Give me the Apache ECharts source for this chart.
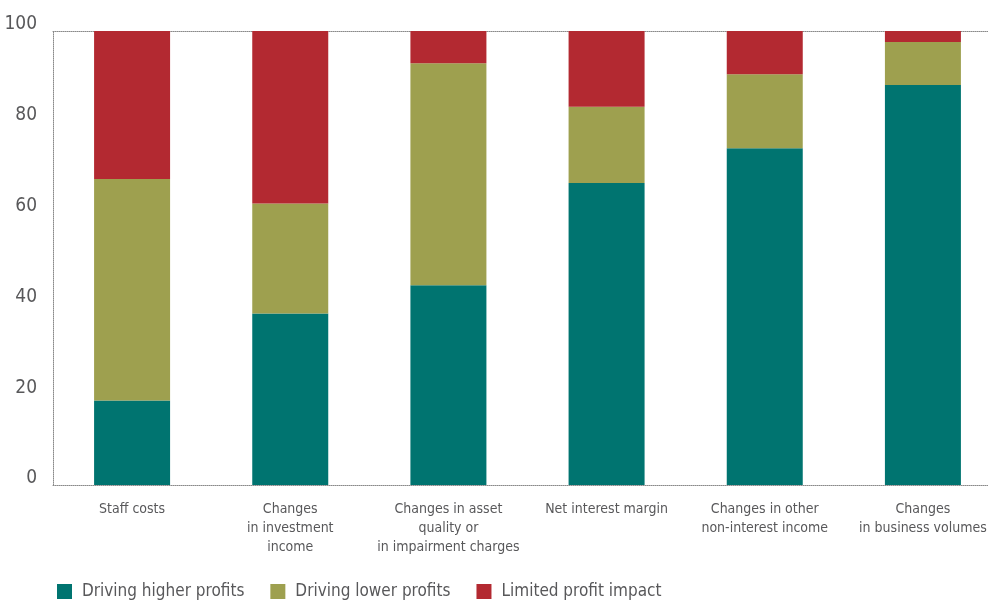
<!DOCTYPE html>
<html>
<head>
<meta charset="utf-8">
<script src="https://cdn.jsdelivr.net/npm/echarts@6/dist/echarts.min.js"></script>
<style>
  html, body { margin: 0; padding: 0; background: #fff; }
  #chart { width: 988px; height: 601px; }
</style>
</head>
<body>
<div id="chart"></div>
<script>
// Share of respondents (%) by profit driver
const categories = [
  'Staff costs',
  'Changes\nin investment\nincome',
  'Changes in asset\nquality or\nin impairment charges',
  'Net interest margin',
  'Changes in other\nnon-interest income',
  'Changes\nin business volumes'
];
const higherProfits = [18.6, 37.8, 44.0, 66.5, 74.2, 88.1];
const lowerProfits  = [48.8, 24.2, 48.9, 16.8, 16.3, 9.5];
const limitedImpact = [32.6, 38.0, 7.1, 16.7, 9.5, 2.4];
const yTicks = [0, 20, 40, 60, 80, 100];

const FONT = '"Liberation Sans Narrow", "DejaVu Sans Condensed", sans-serif';
const TEXT = '#58585a';
const DOT = { color: '#8a8a8a', type: [1, 1], width: 1 };

const chart = echarts.init(document.getElementById('chart'));

function stackSeries(name, data, color) {
  return {
    name: name,
    type: 'bar',
    stack: 'total',
    barWidth: 76,
    data: data,
    itemStyle: { color: color },
    emphasis: { disabled: true }
  };
}

chart.setOption({
  animation: false,
  textStyle: { fontFamily: FONT },
  grid: {
    left: 53, top: 31, width: 949, height: 454,
    containLabel: false,
    outerBoundsMode: 'none'
  },
  legend: {
    left: 52,
    top: 578,
    itemWidth: 15,
    itemHeight: 15,
    itemGap: 26,
    icon: 'rect',
    textStyle: { fontFamily: FONT, fontSize: 17, color: TEXT, padding: [0, 0, 0, 5] },
    data: ['Driving higher profits', 'Driving lower profits', 'Limited profit impact']
  },
  xAxis: [
    {
      type: 'category',
      data: categories,
      position: 'bottom',
      axisLine: { show: true, lineStyle: DOT },
      axisTick: { show: false },
      axisLabel: {
        color: TEXT,
        fontFamily: FONT,
        fontSize: 14,
        lineHeight: 19,
        margin: 15,
        interval: 0
      },
      splitLine: { show: false }
    },
    {
      type: 'category',
      data: categories,
      position: 'top',
      axisLine: { show: true, lineStyle: DOT },
      axisTick: { show: false },
      axisLabel: { show: false },
      splitLine: { show: false }
    }
  ],
  yAxis: {
    type: 'value',
    min: yTicks[0],
    max: yTicks[yTicks.length - 1],
    interval: 20,
    axisLine: { show: true, lineStyle: DOT },
    axisTick: { show: false },
    splitLine: { show: false },
    axisLabel: {
      color: TEXT,
      fontFamily: FONT,
      fontSize: 19,
      margin: 16,
      verticalAlign: 'bottom',
      lineHeight: 13
    }
  },
  series: [
    stackSeries('Driving higher profits', higherProfits, '#007470'),
    stackSeries('Driving lower profits', lowerProfits, '#9ea04f'),
    stackSeries('Limited profit impact', limitedImpact, '#b32931')
  ]
});
</script>
</body>
</html>
